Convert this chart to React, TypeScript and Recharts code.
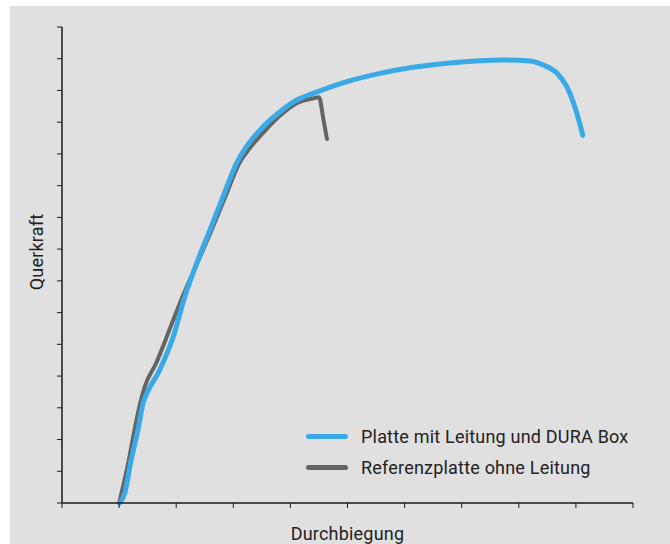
import { LineChart, Line, XAxis, YAxis } from "recharts";

// Platte mit Leitung und DURA Box
const boxX = [1.01, 1.1, 1.2, 1.33, 1.42, 1.49, 1.71, 1.96, 2.15, 2.36, 2.59, 2.82, 3.06, 3.23, 3.47, 3.82, 4.11, 4.4, 4.99, 5.57, 6.15, 6.74, 7.32, 7.73, 8.2, 8.43, 8.67, 8.84, 8.96, 9.05, 9.12];
const boxY = [0, 0.32, 1.26, 2.3, 3.15, 3.47, 4.19, 5.3, 6.5, 7.56, 8.6, 9.65, 10.72, 11.23, 11.76, 12.33, 12.7, 12.91, 13.28, 13.54, 13.73, 13.86, 13.94, 13.96, 13.93, 13.8, 13.54, 13.12, 12.6, 12.07, 11.59];

// Referenzplatte ohne Leitung
const refX = [1.0, 1.16, 1.27, 1.37, 1.45, 1.65, 1.88, 2.11, 2.37, 2.62, 2.86, 3.11, 3.31, 3.57, 3.82, 4.11, 4.4, 4.5, 4.58, 4.64];
const refY = [0, 1.26, 2.3, 3.15, 3.67, 4.41, 5.45, 6.5, 7.56, 8.6, 9.65, 10.72, 11.23, 11.76, 12.21, 12.6, 12.75, 12.79, 12.07, 11.47];

const xTicks = [0, 1, 2, 3, 4, 5, 6, 7, 8, 9, 10];
const yTicks = [0, 1, 2, 3, 4, 5, 6, 7, 8, 9, 10, 11, 12, 13, 14, 15];

const SERIES = [
  { name: "Platte mit Leitung und DURA Box", color: "#3aa9e8" },
  { name: "Referenzplatte ohne Leitung", color: "#646464" },
];

const boxData = boxX.map((x, i) => ({ x, y: boxY[i] }));
const refData = refX.map((x, i) => ({ x, y: refY[i] }));

const FONT = "Roboto, 'DejaVu Sans', sans-serif";
const textStyle = { fontFamily: FONT, fontSize: 18, fill: "#222", letterSpacing: 0.2 };

function LegendBox() {
  return (
    <div
      style={{
        position: "absolute",
        left: 296,
        top: 415,
        fontFamily: FONT,
        fontSize: 18,
        letterSpacing: 0.2,
        color: "#222",
      }}
    >
      {SERIES.map((s) => (
        <div key={s.name} style={{ display: "flex", alignItems: "center", height: 31 }}>
          <div
            style={{
              width: 42,
              height: 5,
              borderRadius: 3,
              background: s.color,
              marginRight: 13,
            }}
          />
          <span>{s.name}</span>
        </div>
      ))}
    </div>
  );
}

export default function App() {
  return (
    <div
      style={{
        position: "absolute",
        left: 10,
        top: 6,
        width: 660,
        height: 538,
        background: "#e0e0e0",
      }}
    >
      <LineChart width={660} height={538} margin={{ top: 21, right: 37, bottom: 0, left: 0 }}>
        <XAxis
          type="number"
          dataKey="x"
          domain={[0, 10]}
          ticks={xTicks}
          tickFormatter={() => ""}
          height={41}
          tickSize={5}
          axisLine={{ stroke: "#1a1a1a", strokeWidth: 1.5 }}
          tickLine={{ stroke: "#1a1a1a" }}
          label={{
            value: "Durchbiegung",
            position: "insideBottom",
            offset: 4,
            style: textStyle,
          }}
        />
        <YAxis
          type="number"
          dataKey="y"
          domain={[0, 15]}
          ticks={yTicks}
          tickFormatter={() => ""}
          width={52}
          tickSize={5}
          axisLine={{ stroke: "#1a1a1a", strokeWidth: 1.5 }}
          tickLine={{ stroke: "#1a1a1a" }}
          label={{
            value: "Querkraft",
            angle: -90,
            position: "center",
            dx: 1,
            dy: -13,
            style: textStyle,
          }}
        />
        <Line
          data={refData}
          dataKey="y"
          name={SERIES[1].name}
          type="monotone"
          stroke={SERIES[1].color}
          strokeWidth={4}
          strokeLinecap="round"
          strokeLinejoin="round"
          dot={false}
          isAnimationActive={false}
        />
        <Line
          data={boxData}
          dataKey="y"
          name={SERIES[0].name}
          type="monotone"
          stroke={SERIES[0].color}
          strokeWidth={5}
          strokeLinecap="round"
          strokeLinejoin="round"
          dot={false}
          isAnimationActive={false}
        />
      </LineChart>
      <LegendBox />
    </div>
  );
}
